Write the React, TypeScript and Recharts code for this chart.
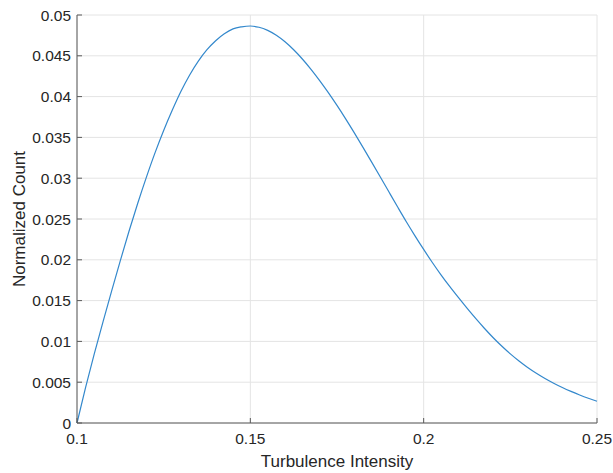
import { LineChart, Line, XAxis, YAxis, CartesianGrid } from "recharts";

// turbulence intensity samples (x) and normalized count (y)
const intensity = [
  0.1, 0.1025, 0.105, 0.1075, 0.11, 0.1125, 0.115, 0.1175, 0.12, 0.1225,
  0.125, 0.1275, 0.13, 0.1325, 0.135, 0.1375, 0.14, 0.1425, 0.145, 0.1475,
  0.15, 0.1525, 0.155, 0.1575, 0.16, 0.1625, 0.165, 0.1675, 0.17, 0.1725,
  0.175, 0.1775, 0.18, 0.1825, 0.185, 0.1875, 0.19, 0.1925, 0.195, 0.1975,
  0.2, 0.2025, 0.205, 0.2075, 0.21, 0.2125, 0.215, 0.2175, 0.22, 0.2225,
  0.225, 0.2275, 0.23, 0.2325, 0.235, 0.2375, 0.24, 0.2425, 0.245, 0.2475,
  0.25,
];
const normCount = [
  0, 0.0044, 0.0085, 0.0124, 0.0162, 0.0199, 0.0235, 0.0269, 0.0301, 0.0331,
  0.03585, 0.03835, 0.04065, 0.04265, 0.04435, 0.04575, 0.04685, 0.0477, 0.0483, 0.04855,
  0.04865, 0.0485, 0.04812, 0.04752, 0.04672, 0.04574, 0.04461, 0.04335, 0.04197, 0.04049,
  0.03892, 0.03727, 0.03555, 0.03378, 0.03197, 0.03014, 0.0283, 0.02647, 0.02467, 0.02294,
  0.02127, 0.01967, 0.01816, 0.01673, 0.01538, 0.01407, 0.01281, 0.01161, 0.01048, 0.00943,
  0.00847, 0.0076, 0.00681, 0.0061, 0.00546, 0.00488, 0.00435, 0.00387, 0.00343, 0.00303,
  0.00267,
];

const xTicks = [0.1, 0.15, 0.2, 0.25];
const yTicks = [
  0, 0.005, 0.01, 0.015, 0.02, 0.025, 0.03, 0.035, 0.04, 0.045, 0.05,
];

const data = intensity.map((x, i) => ({ x, y: normCount[i] }));

const AXIS = "#5a5a5a";
const TEXT = "#262626";
const FONT = "'Liberation Sans', Arial, Helvetica, sans-serif";
const TICK_LEN = 5;

// ticks are drawn inward like matlab, labels outside
const bottomTick = (props: any) => {
  const { x, y, payload } = props;
  return (
    <g>
      <line x1={x} y1={y} x2={x} y2={y - TICK_LEN} stroke={AXIS} />
      <text
        x={x}
        y={y + 10}
        dy="0.71em"
        textAnchor="middle"
        fill={TEXT}
        fontSize={15.5}
        fontFamily={FONT}
      >
        {payload.value}
      </text>
    </g>
  );
};

const leftTick = (props: any) => {
  const { x, y, payload } = props;
  return (
    <g>
      <line x1={x} y1={y} x2={x + TICK_LEN} y2={y} stroke={AXIS} />
      <text
        x={x - 6}
        y={y}
        dy="0.355em"
        textAnchor="end"
        fill={TEXT}
        fontSize={15.5}
        fontFamily={FONT}
      >
        {payload.value}
      </text>
    </g>
  );
};

const topTick = (props: any) => {
  const { x, y } = props;
  return <line x1={x} y1={y} x2={x} y2={y + TICK_LEN} stroke={AXIS} />;
};

const rightTick = (props: any) => {
  const { x, y } = props;
  return <line x1={x} y1={y} x2={x - TICK_LEN} y2={y} stroke={AXIS} />;
};

export default function App() {
  return (
    <div style={{ position: "absolute", left: 0, top: 0 }}>
      <LineChart
        width={613}
        height={473}
        data={data}
        margin={{ top: 15, right: 16, left: 0, bottom: 0 }}
        style={{ background: "#fff" }}
      >
        <CartesianGrid stroke="#e4e4e4" vertical horizontal />
        <XAxis
          type="number"
          dataKey="x"
          domain={[0.1, 0.25]}
          ticks={xTicks}
          interval={0}
          height={50}
          tickSize={0}
          tickMargin={0}
          tickLine={false}
          axisLine={{ stroke: AXIS }}
          tick={bottomTick}
          label={{
            value: "Turbulence Intensity",
            position: "insideBottom",
            offset: 6,
            fill: TEXT,
            fontSize: 17,
            fontFamily: FONT,
          }}
        />
        <XAxis
          xAxisId="top"
          orientation="top"
          type="number"
          dataKey="x"
          domain={[0.1, 0.25]}
          ticks={xTicks}
          interval={0}
          height={0}
          tickSize={0}
          tickMargin={0}
          tickLine={false}
          axisLine={{ stroke: AXIS }}
          tick={topTick}
        />
        <YAxis
          type="number"
          domain={[0, 0.05]}
          ticks={yTicks}
          interval={0}
          width={77}
          tickSize={0}
          tickMargin={0}
          tickLine={false}
          axisLine={{ stroke: AXIS }}
          tick={leftTick}
          label={{
            value: "Normalized Count",
            angle: -90,
            position: "center",
            dx: -19.5,
            fill: TEXT,
            fontSize: 17,
            fontFamily: FONT,
          }}
        />
        <YAxis
          yAxisId="right"
          orientation="right"
          type="number"
          domain={[0, 0.05]}
          ticks={yTicks}
          interval={0}
          width={0}
          tickSize={0}
          tickMargin={0}
          tickLine={false}
          axisLine={{ stroke: AXIS }}
          tick={rightTick}
        />
        <Line
          type="monotone"
          dataKey="y"
          stroke="#3388cc"
          strokeWidth={1.2}
          dot={false}
          isAnimationActive={false}
        />
      </LineChart>
    </div>
  );
}
